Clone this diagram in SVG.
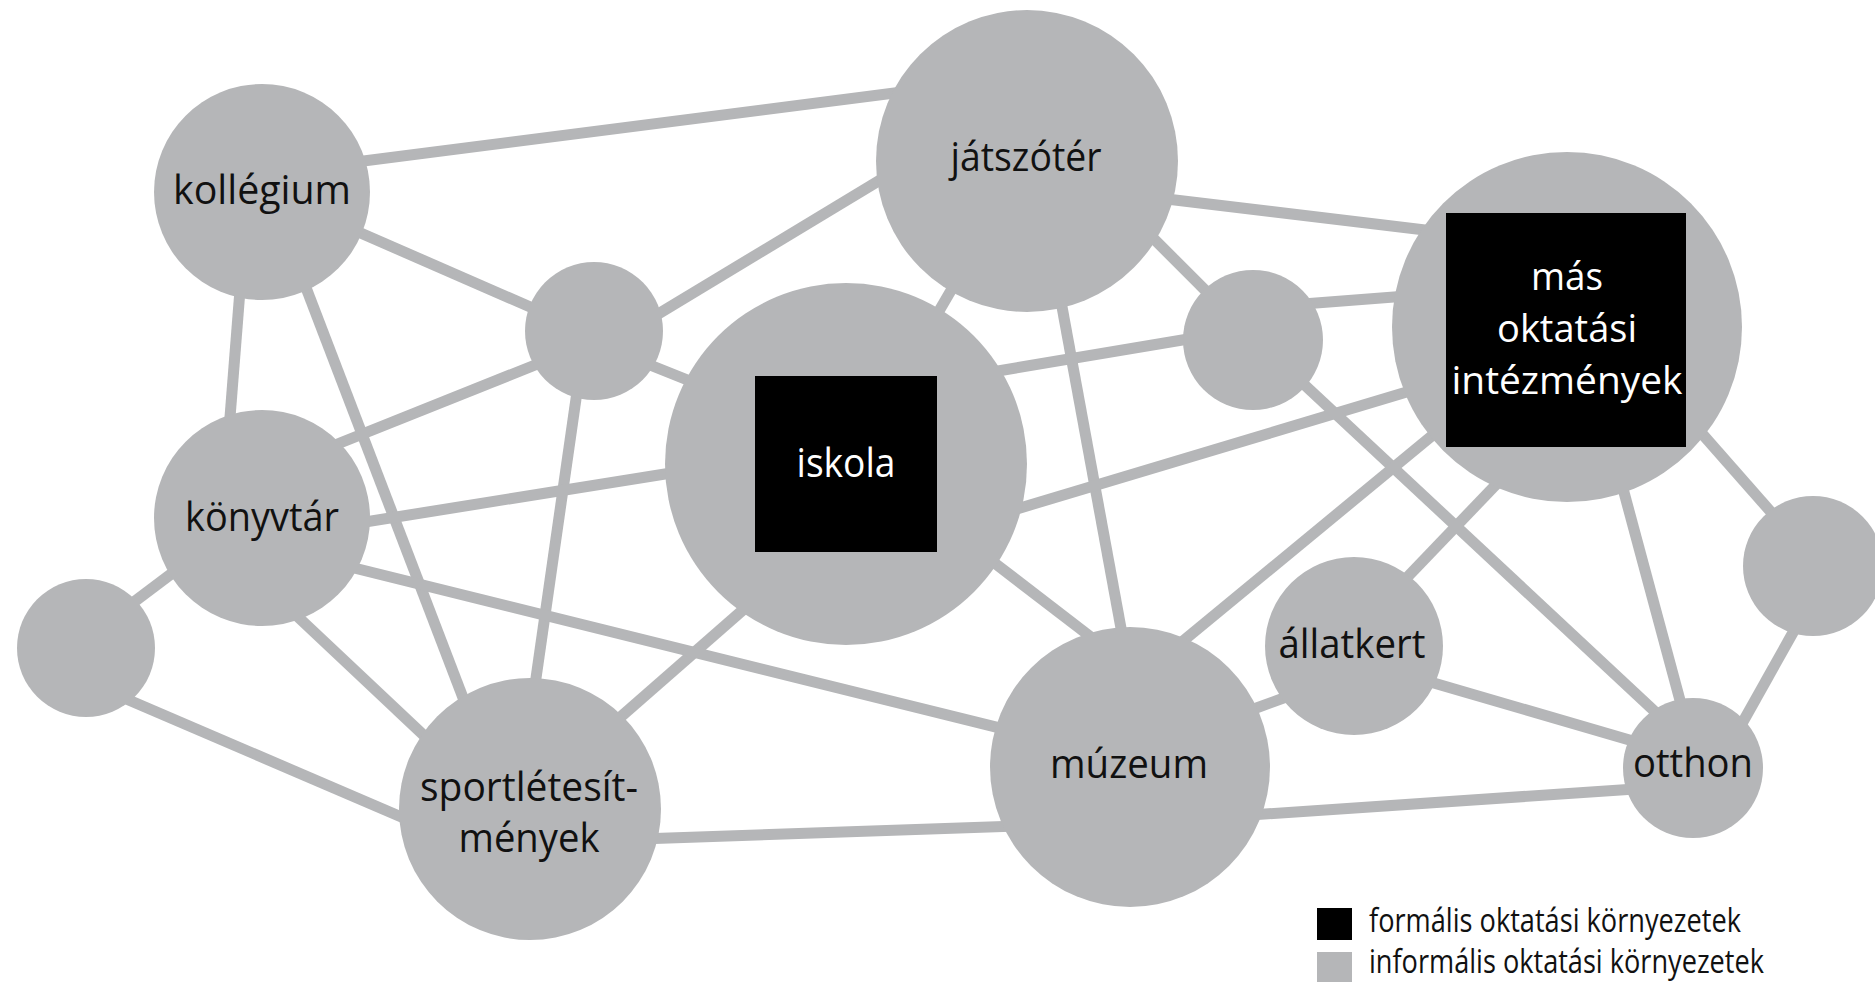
<svg xmlns="http://www.w3.org/2000/svg" width="1875" height="982" viewBox="0 0 1875 982">
<style>
.n{fill:#b5b6b8}
.e line{stroke:#b5b6b8;stroke-width:11;stroke-linecap:butt}
.t{font-family:"Open Sans","Noto Sans","Liberation Sans",sans-serif;font-size:41px;fill:#111;text-anchor:middle}
.w{font-family:"Open Sans","Noto Sans","Liberation Sans",sans-serif;font-size:39px;fill:#fff;text-anchor:middle}
.lg{font-family:"Open Sans","Noto Sans","Liberation Sans",sans-serif;font-size:32px;fill:#111}
</style>
<rect width="1875" height="982" fill="#fff"/>
<g id="connectors" class="e">
<line x1="340" y1="164" x2="910" y2="91"/>
<line x1="340" y1="224" x2="560" y2="320"/>
<line x1="240" y1="290" x2="229" y2="430"/>
<line x1="300" y1="272" x2="470" y2="716"/>
<line x1="640" y1="325" x2="900" y2="168"/>
<line x1="560" y1="355" x2="320" y2="451"/>
<line x1="583" y1="350" x2="530" y2="720"/>
<line x1="620" y1="353" x2="720" y2="393"/>
<line x1="960" y1="275" x2="925" y2="335"/>
<line x1="1058" y1="285" x2="1125" y2="650"/>
<line x1="1140" y1="225" x2="1225" y2="310"/>
<line x1="1150" y1="197" x2="1450" y2="233"/>
<line x1="980" y1="374" x2="1230" y2="332"/>
<line x1="1000" y1="514" x2="1430" y2="385"/>
<line x1="340" y1="526" x2="690" y2="470"/>
<line x1="760" y1="595" x2="600" y2="735"/>
<line x1="975" y1="548" x2="1100" y2="644"/>
<line x1="1290" y1="305" x2="1420" y2="295"/>
<line x1="1280" y1="362" x2="1680" y2="735"/>
<line x1="1160" y1="660" x2="1445" y2="425"/>
<line x1="1510" y1="470" x2="1395" y2="590"/>
<line x1="1618" y1="470" x2="1688" y2="730"/>
<line x1="1690" y1="420" x2="1800" y2="545"/>
<line x1="195" y1="556" x2="110" y2="620"/>
<line x1="280" y1="600" x2="450" y2="760"/>
<line x1="330" y1="562" x2="1020" y2="733"/>
<line x1="110" y1="692" x2="420" y2="825"/>
<line x1="640" y1="839" x2="1020" y2="826"/>
<line x1="1240" y1="714" x2="1300" y2="692"/>
<line x1="1250" y1="815" x2="1650" y2="788"/>
<line x1="1420" y1="679" x2="1650" y2="746"/>
<line x1="1800" y1="620" x2="1730" y2="745"/>
</g>
<g id="kollegium"><circle class="n" cx="262" cy="192" r="108"/><text class="t" x="262" y="204" textLength="178" lengthAdjust="spacingAndGlyphs">kollégium</text></g>
<g id="jatszoter"><circle class="n" cx="1027" cy="161" r="151"/><text class="t" x="1026" y="171" textLength="151" lengthAdjust="spacingAndGlyphs">játszótér</text></g>
<g id="small1"><circle class="n" cx="594" cy="331" r="69"/></g>
<g id="iskola"><circle class="n" cx="846" cy="464" r="181"/><rect x="755" y="376" width="182" height="176" fill="#000"/><text class="t" x="846" y="477" fill="#fff" style="fill:#fff" textLength="99" lengthAdjust="spacingAndGlyphs">iskola</text></g>
<g id="small2"><circle class="n" cx="1253" cy="340" r="70"/></g>
<g id="mas"><circle class="n" cx="1567" cy="327" r="175"/><rect x="1446" y="213" width="240" height="234" fill="#000"/>
<text class="w" x="1567" y="290" textLength="72" lengthAdjust="spacingAndGlyphs">más</text>
<text class="w" x="1567" y="342" textLength="140" lengthAdjust="spacingAndGlyphs">oktatási</text>
<text class="w" x="1567" y="394" textLength="231" lengthAdjust="spacingAndGlyphs">intézmények</text></g>
<g id="konyvtar"><circle class="n" cx="262" cy="518" r="108"/><text class="t" x="262" y="531" textLength="154" lengthAdjust="spacingAndGlyphs">könyvtár</text></g>
<g id="smallLeft"><circle class="n" cx="86" cy="648" r="69"/></g>
<g id="smallRight"><circle class="n" cx="1813" cy="566" r="70"/></g>
<g id="allatkert"><circle class="n" cx="1354" cy="646" r="89"/><text class="t" x="1352" y="658" textLength="147" lengthAdjust="spacingAndGlyphs">állatkert</text></g>
<g id="muzeum"><circle class="n" cx="1130" cy="767" r="140"/><text class="t" x="1129" y="778" textLength="158" lengthAdjust="spacingAndGlyphs">múzeum</text></g>
<g id="otthon"><circle class="n" cx="1693" cy="768" r="70"/><text class="t" x="1693" y="777" textLength="120" lengthAdjust="spacingAndGlyphs">otthon</text></g>
<g id="sport"><circle class="n" cx="530" cy="809" r="131"/>
<text class="t" x="529" y="801" textLength="218" lengthAdjust="spacingAndGlyphs">sportlétesít-</text>
<text class="t" x="529" y="852" textLength="141" lengthAdjust="spacingAndGlyphs">mények</text></g>
<g id="legend">
<rect x="1317" y="908" width="35" height="32" fill="#000"/>
<rect x="1317" y="952" width="35" height="32" class="n"/>
<text class="lg" x="1369" y="932" textLength="372" lengthAdjust="spacingAndGlyphs">formális oktatási környezetek</text>
<text class="lg" x="1369" y="973" textLength="395" lengthAdjust="spacingAndGlyphs">informális oktatási környezetek</text>
</g>
</svg>
